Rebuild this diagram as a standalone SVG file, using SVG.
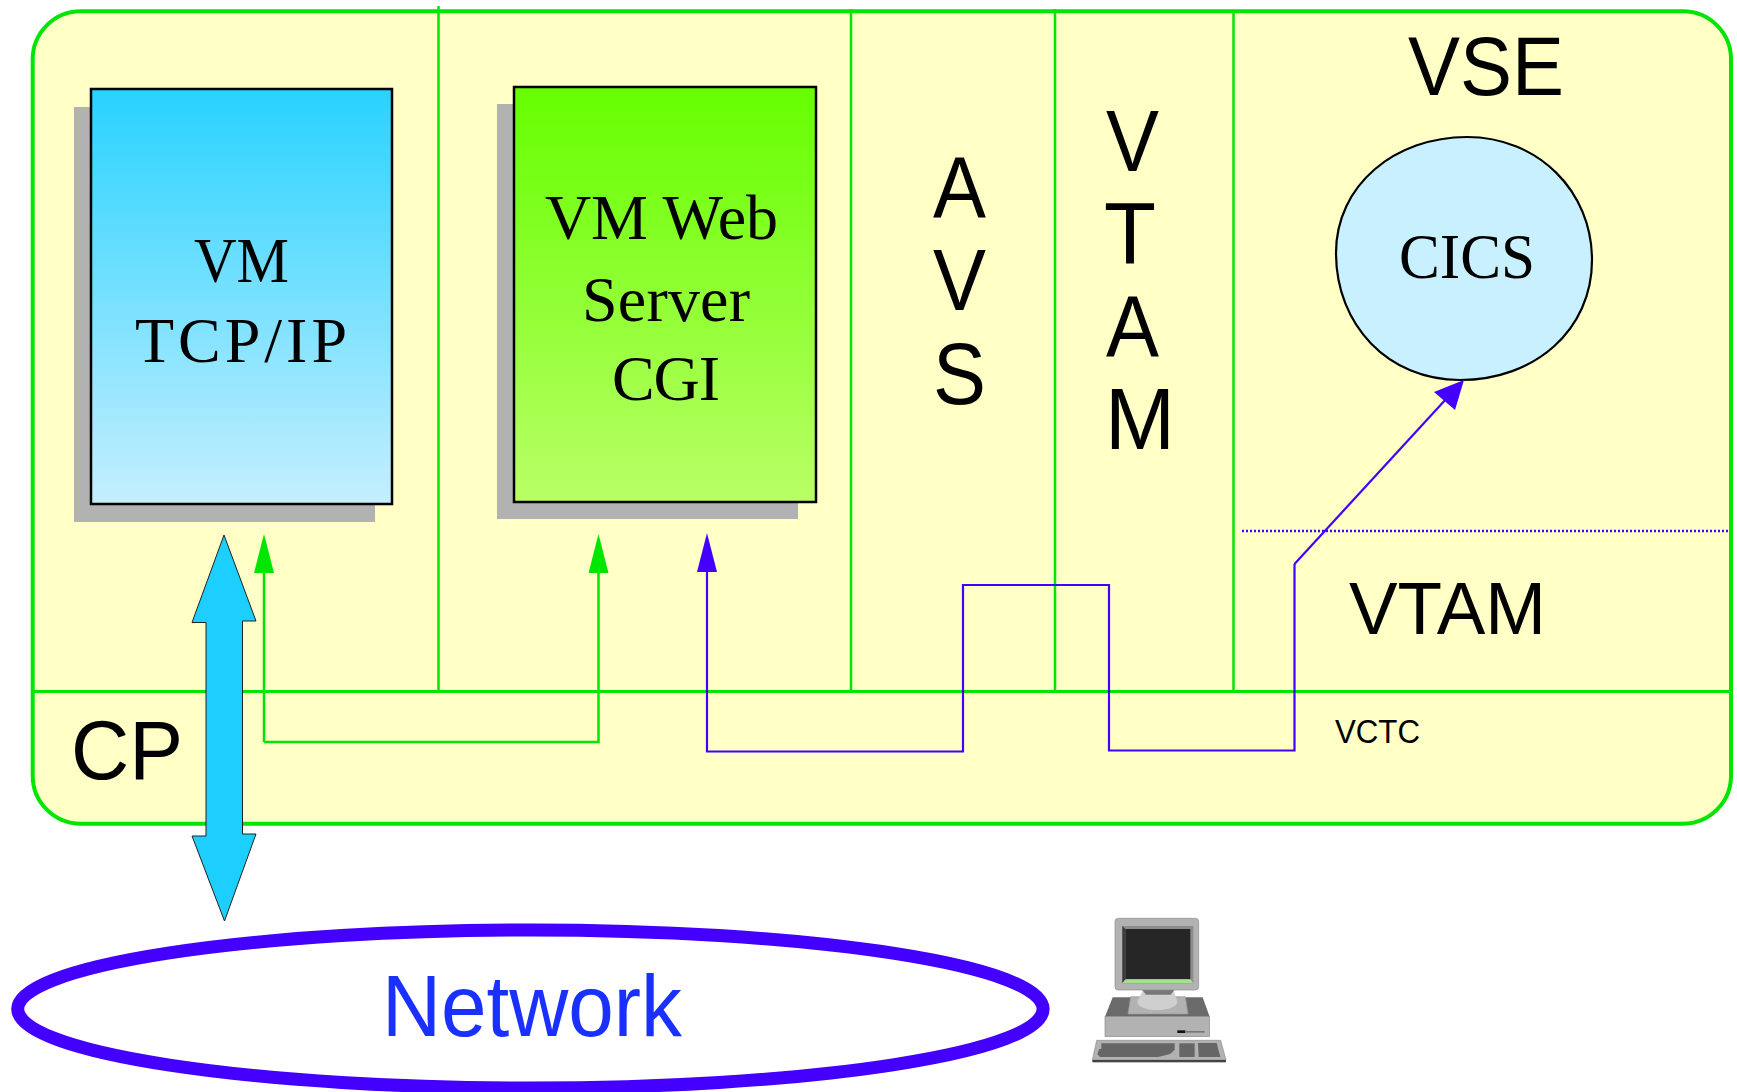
<svg xmlns="http://www.w3.org/2000/svg" width="1737" height="1092" viewBox="0 0 1737 1092">
<style>
.sans{font-family:"Liberation Sans",Arial,sans-serif;fill:#000}
.serif{font-family:"Liberation Serif","Times New Roman",serif;fill:#000;font-size:64px}
.div{stroke:#00e600;stroke-width:2.500;fill:none}
.g{stroke:#00e600;stroke-width:2.500;fill:none}
.b{stroke:#4400ff;stroke-width:2.200;fill:none}
.shadow{fill:#b2b2b2}
.box{stroke:#000;stroke-width:2.500}
</style>
<defs>
<linearGradient id="gb" x1="0" y1="0" x2="0" y2="1"><stop offset="0" stop-color="#29d2ff"/><stop offset="1" stop-color="#c5efff"/></linearGradient>
<linearGradient id="gg" x1="0" y1="0" x2="0" y2="1"><stop offset="0" stop-color="#66ff00"/><stop offset="1" stop-color="#b9ff66"/></linearGradient>
<marker id="ag" markerUnits="userSpaceOnUse" markerWidth="39" markerHeight="20" refX="0" refY="10" orient="auto"><path d="M0,0L39,10L0,20z" fill="#00e600"/></marker>
<marker id="ab" markerUnits="userSpaceOnUse" markerWidth="39" markerHeight="20" refX="0" refY="10" orient="auto"><path d="M0,0L39,10L0,20z" fill="#4400ff"/></marker>
</defs>
<g id="container">
<rect x="32.700" y="11.300" width="1698.300" height="812.400" rx="48" ry="48" fill="#ffffc6" stroke="#00e600" stroke-width="4"/>
<path class="div" d="M438.500 6V691M851 9V691M1055 9V691M1233.500 13V691"/>
<path class="div" style="stroke-width:3" d="M32 691.500H1733"/>
<path d="M1242 531H1729" stroke="#4400ff" stroke-width="2.500" stroke-dasharray="2 2" fill="none"/>
</g>
<g id="vm-tcpip">
<rect class="shadow" x="74" y="107" width="301" height="415"/>
<rect class="box" x="91" y="89" width="301" height="415" fill="url(#gb)"/>
<text class="serif" x="194" y="282" textLength="95" lengthAdjust="spacingAndGlyphs">VM</text>
<text class="serif" x="135" y="362" textLength="212">TCP/IP</text>
</g>
<g id="vm-web-server">
<rect class="shadow" x="497" y="104" width="301" height="415"/>
<rect class="box" x="514" y="87" width="302" height="415" fill="url(#gg)"/>
<text class="serif" x="545" y="239" textLength="233">VM Web</text>
<text class="serif" x="582" y="321" textLength="168">Server</text>
<text class="serif" x="612" y="400" textLength="108">CGI</text>
</g>
<g id="avs" class="sans" font-size="87">
<text x="933" y="218" textLength="53" lengthAdjust="spacingAndGlyphs">A</text><text x="933" y="310" textLength="53" lengthAdjust="spacingAndGlyphs">V</text><text x="933" y="404" textLength="53" lengthAdjust="spacingAndGlyphs">S</text>
</g>
<g id="vtam-vertical" class="sans" font-size="87">
<text x="1106" y="171" textLength="53" lengthAdjust="spacingAndGlyphs">V</text><text x="1104" y="263" textLength="52" lengthAdjust="spacingAndGlyphs">T</text><text x="1106" y="357" textLength="53" lengthAdjust="spacingAndGlyphs">A</text><text x="1105" y="449" textLength="70" lengthAdjust="spacingAndGlyphs">M</text>
</g>
<g id="vse"><text class="sans" font-size="84" x="1408" y="95" textLength="156" lengthAdjust="spacingAndGlyphs">VSE</text></g>
<g id="cics">
<path d="M1467 137C1538 137 1592 191 1592 260C1592 330 1535 380 1460 380C1388 380 1336 325 1336 253C1336 185 1395 137 1467 137Z" fill="#c8f0ff" stroke="#000" stroke-width="2.200"/>
<text class="serif" x="1399" y="278" textLength="136" lengthAdjust="spacingAndGlyphs">CICS</text>
</g>
<g id="vtam"><text class="sans" font-size="75" x="1349" y="634" textLength="197" lengthAdjust="spacingAndGlyphs">VTAM</text></g>
<g id="vctc"><text class="sans" font-size="33" x="1335" y="743" textLength="85" lengthAdjust="spacingAndGlyphs">VCTC</text></g>
<g id="cp"><text class="sans" font-size="84" x="71" y="779" textLength="112" lengthAdjust="spacingAndGlyphs">CP</text></g>
<g id="network">
<ellipse cx="530.400" cy="1009" rx="512.700" ry="79" fill="#fff" stroke="#4400ff" stroke-width="13"/>
<text class="sans" font-size="87" x="382" y="1035.500" textLength="300" lengthAdjust="spacingAndGlyphs" style="fill:#1a30ff">Network</text>
</g>
<g id="computer" transform="translate(1060 900) scale(.3333)">
<path d="M158 292H428L449 350H135Z" fill="#6b6b6b"/>
<rect x="135" y="350" width="314" height="60" fill="#b2b2b2" stroke="#8c8c8c" stroke-width="2"/>
<rect x="352" y="391" width="24" height="8" fill="#111"/><rect x="376" y="393" width="58" height="5" fill="#777"/>
<path d="M212 290H376L384 342H204Z" fill="#b2b2b2" stroke="#999" stroke-width="2"/>
<path d="M250 268H340L352 305C352 320 325 330 292 330C258 330 232 320 232 305Z" fill="#cfcfcf"/>
<path d="M245 268H345L332 284H258Z" fill="#777"/>
<rect x="165" y="55" width="251" height="215" rx="10" fill="#b2b2b2" stroke="#8c8c8c" stroke-width="2"/>
<path d="M187 78H400V250H187Z" fill="#8c8c8c"/>
<path d="M196 87H391V238H196Z" fill="#262626"/>
<path d="M196 238H391L400 249H187Z" fill="#a6e08f"/>
<path d="M187 78L196 87V238L187 249Z" fill="#3b3b3b"/>
<path d="M110 421H482L498 480H97Z" fill="#b2b2b2" stroke="#8c8c8c" stroke-width="2"/>
<rect x="97" y="480" width="401" height="7" fill="#444"/>
<path d="M124 430H344V450L330 462L295 471H120L112 462L118 447L124 446Z" fill="#666"/>
<rect x="358" y="430" width="46" height="41" fill="#666"/>
<path d="M414 429H470L481 471H416Z" fill="#666"/>
</g>
<g id="connectors">
<path d="M224 535L256 621H242.500V834L256 834L224.500 921L192 836H206V622.500H192Z" fill="#1ccfff" stroke="#222" stroke-width="1"/>
<path class="g" d="M264 742V573" marker-end="url(#ag)"/>
<path class="g" d="M264 742H598.500V573" marker-end="url(#ag)"/>
<path class="b" d="M1294.500 564V750.500H1109V585H963V751.500H707V572" marker-end="url(#ab)"/>
<path class="b" d="M1294.500 564L1447 398"/>
<path d="M1464 380L1434 392L1455 410Z" fill="#4400ff"/>
</g>
</svg>
